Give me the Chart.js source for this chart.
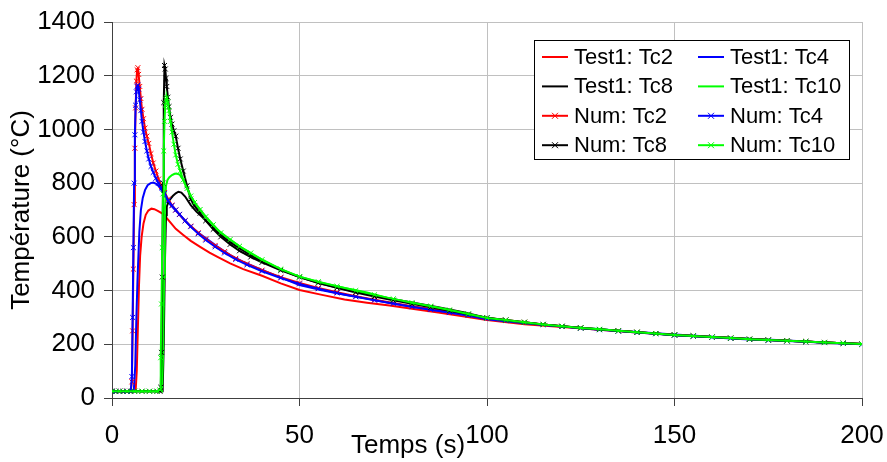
<!DOCTYPE html>
<html>
<head>
<meta charset="utf-8">
<script src="https://cdn.jsdelivr.net/npm/chart.js@4/dist/chart.umd.min.js"></script>
<style>
  body { margin: 0; background: #fff; }
</style>
</head>
<body>
<canvas id="chart" width="887" height="462"></canvas>
<script>
// temps (s) / température (°C)

const testTimeTc2 = [0, 3, 6.3, 6.6, 6.9, 7.2, 7.5, 7.9, 8.4, 9, 9.7, 10.5, 11.3, 12.2, 13.7, 15.5, 17, 19, 21, 23.5, 26, 28, 31.5, 35, 40, 45, 50, 56, 62, 68, 74, 80, 87, 94, 100, 110, 120, 130, 140, 150, 160, 170, 180, 190, 200];
const testTc2 = [25, 25, 25, 100, 260, 420, 530, 600, 650, 682, 698, 705, 703, 697, 685, 655, 630, 607, 585, 563, 541, 526, 501, 480, 455, 427, 402, 384, 367, 355, 344, 332, 318, 303, 290, 275, 264, 254, 244, 235, 227, 220, 213, 207, 201];

const testTimeTc4 = [0, 3, 5.8, 6.2, 6.5, 6.8, 7.0, 7.3, 7.7, 8.2, 8.8, 9.5, 10.3, 11, 11.8, 12.5, 13.2, 14, 15, 16.5, 18, 19.5, 21, 23.5, 26, 28, 31.5, 35, 40, 45, 50, 56, 62, 68, 74, 80, 87, 94, 100, 110, 120, 130, 140, 150, 160, 170, 180, 190, 200];
const testTc4 = [25, 25, 25, 120, 300, 440, 514, 620, 700, 745, 774, 792, 800, 802, 797, 788, 774, 755, 728, 705, 683, 660, 638, 610, 585, 565, 532, 507, 477, 448, 421, 401, 384, 370, 354, 340, 325, 309, 293, 278, 266, 256, 246, 236, 228, 221, 214, 207, 201];

const testTimeTc8 = [0, 5, 10, 13.5, 13.8, 14.1, 14.4, 14.6, 15, 15.5, 16.2, 17, 17.7, 18.5, 19.5, 21, 22.5, 24, 26, 28, 31, 34, 37, 40, 45, 50, 56, 62, 68, 74, 80, 87, 94, 100, 110, 120, 130, 140, 150, 160, 170, 180, 190, 200];
const testTc8 = [25, 25, 25, 25, 200, 500, 680, 712, 728, 740, 752, 762, 768, 765, 750, 718, 694, 675, 648, 620, 585, 557, 532, 510, 478, 450, 425, 405, 387, 371, 356, 338, 318, 298, 280, 267, 256, 245, 235, 227, 220, 213, 207, 201];

const testTimeTc10 = [0, 5, 10, 13.3, 13.6, 13.9, 14.1, 14.4, 14.8, 15.3, 16, 16.7, 17.2, 18, 19, 20, 21, 22.5, 24, 26, 28, 31, 34, 37, 40, 45, 50, 56, 62, 68, 74, 80, 87, 94, 100, 110, 120, 130, 140, 150, 160, 170, 180, 190, 200];
const testTc10 = [25, 25, 25, 25, 150, 450, 700, 790, 812, 822, 830, 835, 836, 832, 812, 782, 752, 718, 690, 658, 628, 595, 565, 538, 515, 480, 452, 428, 410, 393, 371, 355, 336, 316, 298, 280, 267, 256, 245, 235, 227, 220, 213, 207, 201];

const numTimeA = [0, 1, 2, 3, 4, 5,
  5.3, 5.5, 5.7, 5.9, 6.1, 6.3, 6.5, 6.7, 6.9, 7.1,
  7.4, 7.7, 8, 8.4, 8.8, 9.3, 9.8, 10.4, 11, 11.7,
  12.4, 13.2, 14, 15, 16, 17, 18, 19.5, 21, 23,
  25, 27.5, 30, 33, 36, 40, 45, 50,
  55, 60, 65, 70, 75, 80, 85, 90, 95, 100, 105, 110, 115, 120, 125, 130, 135, 140, 145, 150,
  155, 160, 165, 170, 175, 180, 185, 190, 195, 200];
const numTc2 = [25, 25, 25, 25, 25, 25,
  60, 250, 480, 720, 930, 1080, 1180, 1222, 1230, 1205,
  1160, 1115, 1075, 1040, 1005, 975, 948, 910, 875, 845,
  815, 788, 765, 740, 718, 700, 683, 660, 640, 615,
  592, 568, 545, 520, 500, 476, 450, 428,
  410, 394, 379, 366, 354, 342, 331, 320, 309, 298, 290, 282, 274, 267, 261, 255, 250, 245, 240, 235,
  231, 227, 223, 219, 216, 213, 210, 207, 204, 201];
const numTc4 = [25, 25, 25, 25, 25, 25,
  80, 300, 560, 800, 980, 1090, 1140, 1160, 1165, 1150,
  1110, 1070, 1030, 990, 955, 920, 890, 862, 840, 818,
  800, 782, 762, 735, 716, 700, 684, 660, 638, 612,
  588, 563, 540, 516, 496, 472, 447, 425,
  407, 391, 377, 364, 352, 340, 329, 318, 308, 297, 289, 281, 273, 266, 260, 254, 249, 244, 239, 234,
  230, 226, 222, 218, 215, 212, 209, 206, 203, 200];

const numTimeB = [0, 2, 4, 6, 8, 10, 12,
  12.8, 13.0, 13.2, 13.4, 13.6, 13.8, 14.0, 14.2, 14.4, 14.6,
  14.9, 15.2, 15.6, 16, 16.5, 17, 17.6, 18.2, 19, 20,
  21, 22, 23.5, 25, 27, 29, 31.5, 34, 37, 40,
  45, 50,
  55, 60, 65, 70, 75, 80, 85, 90, 95, 100, 105, 110, 115, 120, 125, 130, 135, 140, 145, 150,
  155, 160, 165, 170, 175, 180, 185, 190, 195, 200];
const numTc8 = [25, 25, 25, 25, 25, 25, 25,
  25, 40, 170, 450, 800, 1100, 1238, 1225, 1190, 1160,
  1120, 1085, 1045, 1020, 995, 975, 930, 890, 845, 790,
  740, 715, 688, 660, 628, 600, 572, 548, 525, 505,
  475, 450,
  428, 410, 393, 378, 364, 351, 338, 325, 312, 299, 290, 282, 274, 267, 261, 255, 250, 245, 240, 235,
  231, 227, 223, 219, 216, 213, 210, 207, 204, 201];
const numTc10 = [25, 25, 25, 25, 25, 25, 25,
  30, 150, 350, 560, 760, 920, 1030, 1090, 1112, 1118,
  1100, 1070, 1030, 990, 945, 905, 870, 845, 812, 780,
  752, 728, 702, 675, 645, 615, 590, 565, 540, 515,
  480, 452,
  433, 416, 400, 384, 369, 355, 342, 328, 313, 298, 290, 282, 274, 267, 261, 256, 250, 245, 240, 235,
  231, 227, 223, 219, 216, 213, 210, 207, 204, 201];

const xTicks = [0, 50, 100, 150, 200];
const yTicks = [0, 200, 400, 600, 800, 1000, 1200, 1400];

const FONT = "'Liberation Sans', Arial, sans-serif";
Chart.defaults.font.family = FONT;
Chart.defaults.color = '#000';

function pts(t, v) {
  return t.map((x, i) => ({ x: x, y: v[i] }));
}

function testSet(label, color, t, v) {
  return { label, data: pts(t, v), borderColor: color, backgroundColor: color,
    borderWidth: 2, pointRadius: 0, tension: 0 };
}
function numSet(label, color, t, v) {
  return { label, data: pts(t, v), borderColor: color, backgroundColor: color,
    borderWidth: 2, pointStyle: 'crossRot', pointRadius: 3.5, pointBorderWidth: 1,
    pointBorderColor: color, tension: 0 };
}

const datasets = [
  testSet('Test1: Tc2', '#ff0000', testTimeTc2, testTc2),
  testSet('Test1: Tc4', '#0000ff', testTimeTc4, testTc4),
  testSet('Test1: Tc8', '#000000', testTimeTc8, testTc8),
  testSet('Test1: Tc10', '#00ff00', testTimeTc10, testTc10),
  numSet('Num: Tc2', '#ff0000', numTimeA, numTc2),
  numSet('Num: Tc4', '#0000ff', numTimeA, numTc4),
  numSet('Num: Tc8', '#000000', numTimeB, numTc8),
  numSet('Num: Tc10', '#00ff00', numTimeB, numTc10)
];
// excel draws the last series on top
datasets.forEach((d, i) => { d.order = datasets.length - i; });

// legend box + x title
const extras = {
  id: 'extras',
  afterDraw(chart) {
    const { ctx, chartArea } = chart;
    ctx.save();

    ctx.font = '26px ' + FONT;
    ctx.fillStyle = '#000';
    ctx.textAlign = 'center';
    ctx.textBaseline = 'middle';
    ctx.fillText('Temps (s)', chartArea.left + 296, chartArea.bottom + 48);

    const x0 = chartArea.right - 328, y0 = chartArea.top + 18;
    ctx.fillStyle = '#fff';
    ctx.fillRect(x0, y0, 315, 119);
    ctx.strokeStyle = '#000';
    ctx.lineWidth = 1;
    ctx.strokeRect(x0 + 0.5, y0 + 0.5, 315, 119);

    ctx.font = '22px ' + FONT;
    ctx.textAlign = 'left';
    chart.data.datasets.forEach((ds, i) => {
      const lx = x0 + 8 + (i % 2) * 156;
      const ly = y0 + 17 + Math.floor(i / 2) * 29.4;
      ctx.strokeStyle = ds.borderColor;
      ctx.lineWidth = 2;
      ctx.beginPath();
      ctx.moveTo(lx, ly);
      ctx.lineTo(lx + 26, ly);
      ctx.stroke();
      if (ds.pointStyle) {
        ctx.lineWidth = 1;
        ctx.beginPath();
        ctx.moveTo(lx + 10, ly - 3); ctx.lineTo(lx + 16, ly + 3);
        ctx.moveTo(lx + 16, ly - 3); ctx.lineTo(lx + 10, ly + 3);
        ctx.stroke();
      }
      ctx.fillStyle = '#000';
      ctx.fillText(ds.label, lx + 32, ly + 1);
    });
    ctx.restore();
  }
};

new Chart(document.getElementById('chart'), {
  type: 'line',
  data: { datasets },
  options: {
    responsive: false,
    animation: false,
    events: [],
    layout: { padding: { top: 22, right: 25, left: 0, bottom: 0 } },
    plugins: { legend: { display: false }, tooltip: { enabled: false } },
    scales: {
      x: {
        type: 'linear', min: 0, max: 200,
        afterBuildTicks: s => { s.ticks = xTicks.map(v => ({ value: v })); },
        afterFit: s => { s.height = 64; s.paddingLeft = 0; s.paddingRight = 0; },
        ticks: { font: { size: 26 }, padding: 14, maxRotation: 0, callback: v => String(v) },
        grid: { color: '#c0c0c0', tickColor: '#404040', tickLength: 8 },
        border: { color: '#404040', width: 1 }
      },
      y: {
        type: 'linear', min: 0, max: 1400,
        afterBuildTicks: s => { s.ticks = yTicks.map(v => ({ value: v })); },
        afterFit: s => { s.width = 112; s.paddingTop = 0; s.paddingBottom = 0; },
        ticks: { font: { size: 26 }, padding: 9, callback: v => String(v) },
        grid: { color: '#c0c0c0', tickColor: '#404040', tickLength: 8 },
        border: { color: '#404040', width: 1 },
        title: { display: true, text: 'Température (°C)', font: { size: 26 }, padding: { top: 6, bottom: 0 } }
      }
    }
  },
  plugins: [extras]
});
</script>
</body>
</html>
